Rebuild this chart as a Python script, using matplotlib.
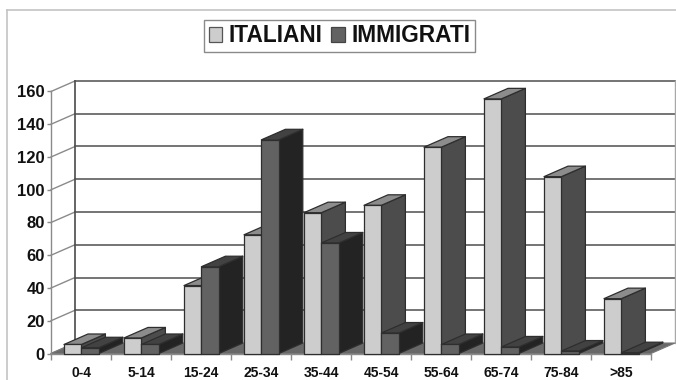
import numpy as np
import matplotlib
matplotlib.use("Agg")
import matplotlib.pyplot as plt
from matplotlib.patches import Polygon, Patch

plt.rcParams['font.family'] = ['Liberation Sans', 'DejaVu Sans']

categories = ['0-4', '5-14', '15-24', '25-34', '35-44', '45-54', '55-64', '65-74', '75-84', '>85']
italiani = [5.5, 9.5, 41.5, 72.5, 86, 90.5, 126, 155.5, 108, 33.5]
immigrati = [3.5, 5.5, 53, 130.5, 67.5, 12.5, 5.5, 4, 1.5, 0.5]
y_ticks = [0, 20, 40, 60, 80, 100, 120, 140, 160]

W, H = 676, 380
# oblique depth of the fake 3d box, in data units
depth_x = 24 / 60
depth_y = 10.5 / (262 / 160)
bar_w = 17.4 / 60
gap = 13 / 60

fig = plt.figure(figsize=(W / 100, H / 100), dpi=100)
ax = fig.add_axes([51 / W, 1 - 353.5 / H, 600 / W, 262 / H])
n = len(categories)
ax.set_xlim(0, n)
ax.set_ylim(0, 160)
ax.patch.set_alpha(0)

# outer chart frame
fig.add_artist(plt.Line2D([6.5 / W, 6.5 / W], [0, 1 - 9.5 / H], color='#c4c4c4', lw=1.2))
fig.add_artist(plt.Line2D([6.5 / W, 1], [1 - 9.5 / H, 1 - 9.5 / H], color='#c4c4c4', lw=1.2))


def poly(pts, fc, z, ec='#2e2e2e', lw=0.9):
    ax.add_patch(Polygon(pts, closed=True, fc=fc, ec=ec, lw=lw, zorder=z, clip_on=False,
                         joinstyle='round'))


def bar3d(x, v, w, front, top, side, z):
    poly([(x + w, 0), (x + w + depth_x, depth_y), (x + w + depth_x, v + depth_y), (x + w, v)], side, z)
    poly([(x, v), (x + depth_x, v + depth_y), (x + w + depth_x, v + depth_y), (x + w, v)], top, z)
    poly([(x, 0), (x + w, 0), (x + w, v), (x, v)], front, z)


# floor
poly([(0, 0), (n, 0), (n + depth_x, depth_y), (depth_x, depth_y)], '#686868', 1, ec='#777777', lw=0.8)

# back wall gridlines and left wall
for t in y_ticks[1:]:
    ax.plot([depth_x, n + depth_x], [t + depth_y, t + depth_y], color='#5c5c5c', lw=1.2, zorder=0.5, clip_on=False)
for t in y_ticks:
    ax.plot([0, depth_x], [t, t + depth_y], color='#8a8a8a', lw=1.0, zorder=0.5, clip_on=False)
ax.plot([depth_x, depth_x], [depth_y, 160 + depth_y], color='#4a4a4a', lw=1.2, zorder=0.6, clip_on=False)
ax.plot([n + depth_x, n + depth_x], [depth_y, 160 + depth_y], color='#a8a8a8', lw=1.0, zorder=0.6, clip_on=False)

for i in range(n):
    x0 = i + gap
    bar3d(x0, italiani[i], bar_w, '#cdcdcd', '#8c8c8c', '#4c4c4c', 2 + i * 0.1)
    bar3d(x0 + bar_w, immigrati[i], bar_w, '#626262', '#424242', '#232323', 2.05 + i * 0.1)

# axes
for s in ['top', 'right']:
    ax.spines[s].set_visible(False)
for s in ['left', 'bottom']:
    ax.spines[s].set_color('#8a8a8a')
    ax.spines[s].set_linewidth(1.0)
    ax.spines[s].set_zorder(1.5)

ax.set_yticks(y_ticks)
ax.set_yticklabels([str(t) for t in y_ticks], fontsize=12, fontweight='bold', color='#111111')
ax.set_xticks(np.arange(n) + 0.5)
ax.set_xticklabels(categories, fontsize=10, fontweight='bold', color='#111111')
ax.set_xticks(np.arange(n + 1), minor=True)
ax.tick_params(axis='x', which='major', length=0, pad=9)
ax.tick_params(axis='x', which='minor', length=4, width=1.0, color='#8a8a8a')
ax.tick_params(axis='y', length=3, width=1.0, color='#8a8a8a', pad=1.5)

handles = [Patch(fc='#cdcdcd', ec='#555555', lw=0.9, label='ITALIANI'),
           Patch(fc='#626262', ec='#444444', lw=0.9, label='IMMIGRATI')]
leg = fig.legend(handles=handles, ncol=2, loc='center', bbox_to_anchor=(339.5 / W, 1 - 36 / H),
                 frameon=True, fancybox=False, edgecolor='#8a8a8a', framealpha=1,
                 prop={'size': 16.3, 'weight': 'bold'}, handlelength=0.58, handleheight=0.6,
                 handletextpad=0.3, columnspacing=0.4, borderpad=0.22, borderaxespad=0)
leg.get_frame().set_linewidth(1.0)
for txt in leg.get_texts():
    txt.set_color('#111111')

fig.savefig('out.png', dpi=100)
